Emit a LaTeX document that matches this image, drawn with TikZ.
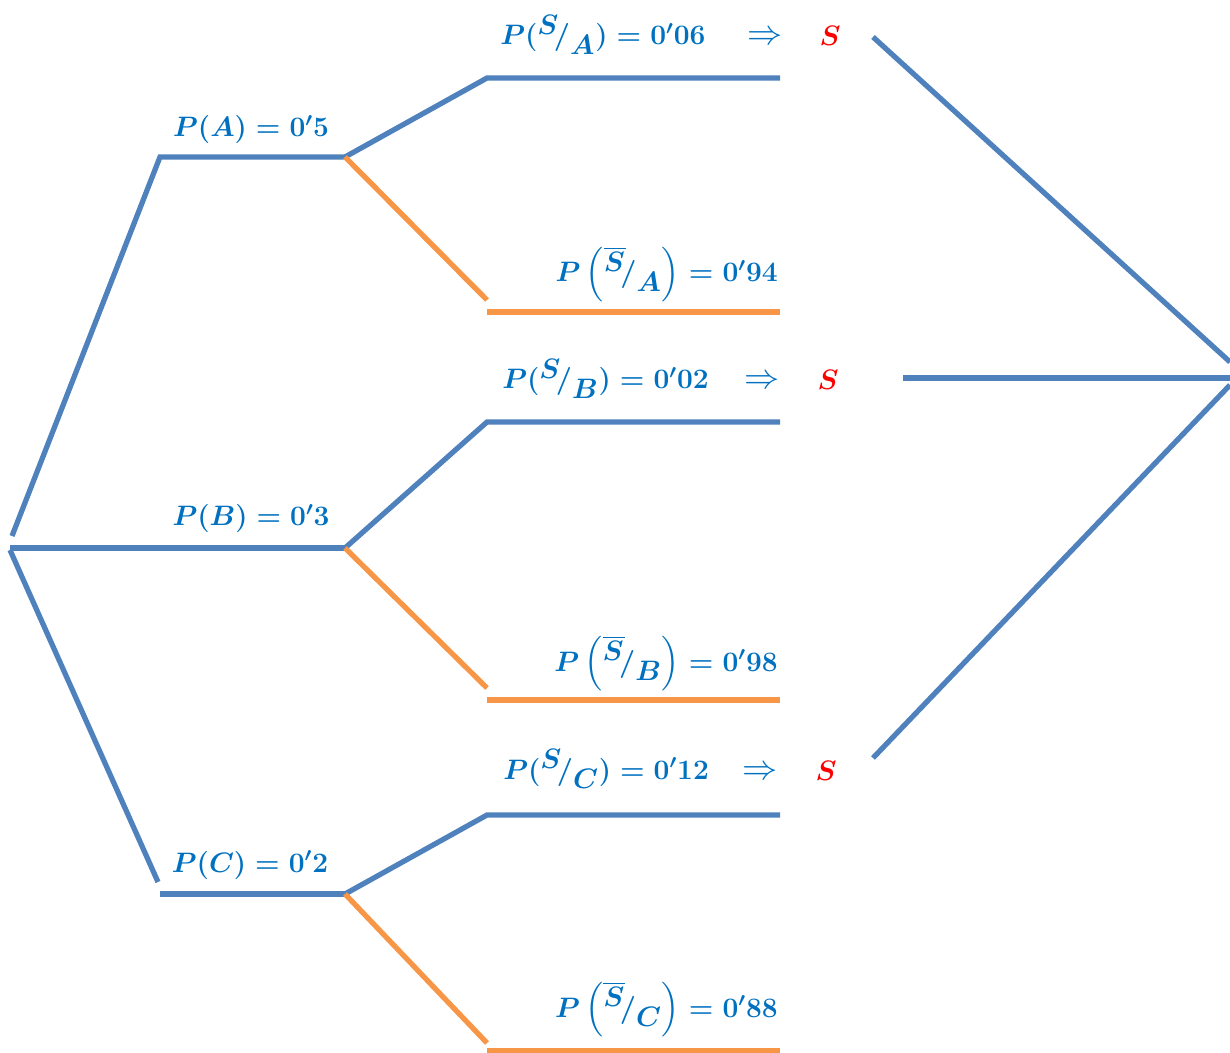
\RequirePackage{fix-cm}
\documentclass[tikz,border=0pt]{standalone}
\usepackage{amsmath}
\definecolor{lineblue}{RGB}{79,129,189}
\definecolor{lineorange}{RGB}{247,150,70}
\definecolor{textblue}{RGB}{0,112,192}
\newcommand{\cond}[2]{{}^{\textstyle #1}\!/_{\textstyle #2}}
\begin{document}
\begin{tikzpicture}[
    x=0.02cm,
    y=-0.02cm,
    branch/.style={draw=lineblue, line width=0.105cm},
    nobranch/.style={draw=lineorange, line width=0.105cm},
    prob/.style={text=textblue, font=\boldmath\fontsize{16}{19}\selectfont, inner sep=0pt},
    implies/.style={prob, font=\fontsize{20}{22}\selectfont},
    event/.style={prob, text=red}
]
\useasboundingbox (0,0) rectangle (1230,1053);

\coordinate (rootA) at (12,536);
\coordinate (rootB) at (10,548);
\coordinate (rootC) at (10,550);
\coordinate (A0) at (160,157);
\coordinate (A1) at (345,157);
\coordinate (B1) at (345,548);
\coordinate (Cend) at (158,882);
\coordinate (C0) at (160,894);
\coordinate (C1) at (345,894);

\coordinate (SA0) at (487,78);
\coordinate (SA1) at (780,78);
\coordinate (NAend) at (487,300);
\coordinate (NA0) at (487,312);
\coordinate (NA1) at (780,312);
\coordinate (SB0) at (487,422);
\coordinate (SB1) at (780,422);
\coordinate (NBend) at (487,688);
\coordinate (NB0) at (487,700);
\coordinate (NB1) at (780,700);
\coordinate (SC0) at (487,815);
\coordinate (SC1) at (780,815);
\coordinate (NCend) at (487,1043);
\coordinate (NC0) at (487,1051);
\coordinate (NC1) at (780,1051);

\coordinate (fromA) at (873,37);
\coordinate (fromB) at (903,378);
\coordinate (fromC) at (873,758);
\coordinate (sinkA) at (1230,362);
\coordinate (sinkB) at (1230,378);
\coordinate (sinkC) at (1230,385);

\draw[branch] (rootA) -- (A0) -- (A1);
\draw[branch] (rootB) -- (B1);
\draw[branch] (rootC) -- (Cend);
\draw[branch] (C0) -- (C1);

\draw[branch] (A1) -- (SA0) -- (SA1);
\draw[nobranch] (A1) -- (NAend);
\draw[nobranch] (NA0) -- (NA1);
\draw[branch] (B1) -- (SB0) -- (SB1);
\draw[nobranch] (B1) -- (NBend);
\draw[nobranch] (NB0) -- (NB1);
\draw[branch] (C1) -- (SC0) -- (SC1);
\draw[nobranch] (C1) -- (NCend);
\draw[nobranch] (NC0) -- (NC1);

\draw[branch] (fromA) -- (sinkA);
\draw[branch] (fromB) -- (sinkB);
\draw[branch] (fromC) -- (sinkC);

\node[prob, anchor=base] (pA) at (251,137) {$P(A) = 0'5$};
\node[prob, anchor=base] (pB) at (251,526) {$P(B) = 0'3$};
\node[prob, anchor=base] (pC) at (250,872) {$P(C) = 0'2$};

\node[prob, anchor=base west] (pSA) at (500,45) {$P(\cond{S}{A}) = 0'06$};
\node[implies, anchor=base] (impA) at (765,45) {$\Rightarrow$};
\node[event, anchor=base] (SA) at (830,46) {$S$};
\node[prob, anchor=base east] (pNA) at (778,282) {$P\left(\cond{\overline{S}}{A}\right) = 0'94$};

\node[prob, anchor=base west] (pSB) at (502,389) {$P(\cond{S}{B}) = 0'02$};
\node[implies, anchor=base] (impB) at (762,389) {$\Rightarrow$};
\node[event, anchor=base] (SB) at (828,390) {$S$};
\node[prob, anchor=base east] (pNB) at (778,671) {$P\left(\cond{\overline{S}}{B}\right) = 0'98$};

\node[prob, anchor=base west] (pSC) at (503,779) {$P(\cond{S}{C}) = 0'12$};
\node[implies, anchor=base] (impC) at (760,779) {$\Rightarrow$};
\node[event, anchor=base] (SC) at (826,780) {$S$};
\node[prob, anchor=base east] (pNC) at (778,1017) {$P\left(\cond{\overline{S}}{C}\right) = 0'88$};
\end{tikzpicture}
\end{document}
